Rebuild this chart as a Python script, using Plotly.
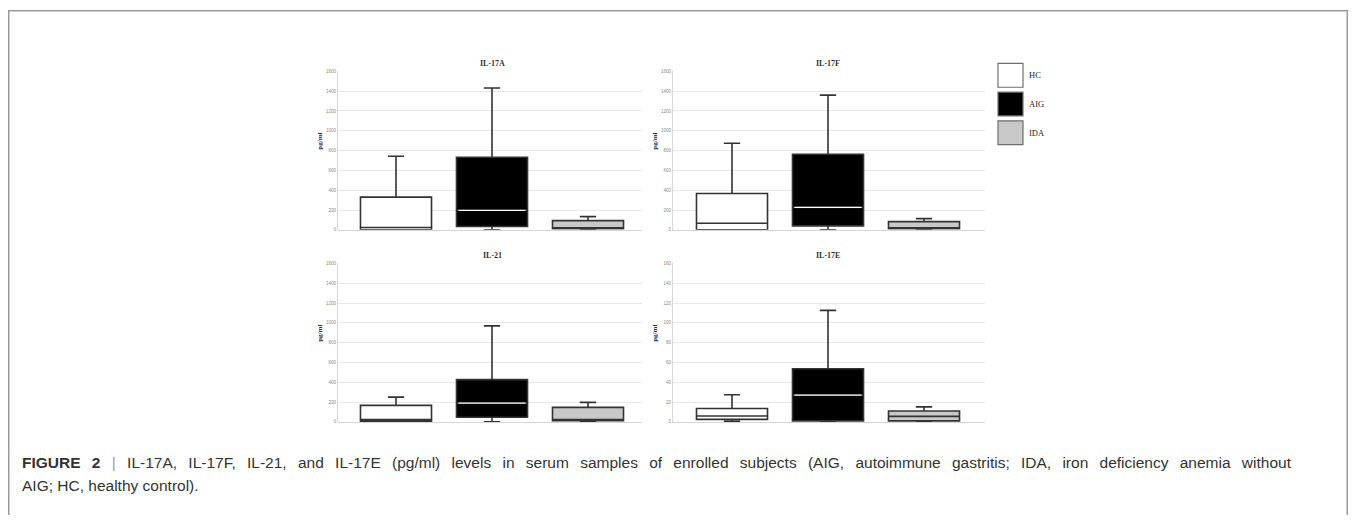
import plotly.graph_objects as go

# page is 1356x523; the HTML body has an 8px margin, so the figure is 1340x507
OFF = 8
W, H = 1340, 507

groups = ["HC", "AIG", "IDA"]
fills = {"HC": "#ffffff", "AIG": "#000000", "IDA": "#c8c8c8"}

panels = ["IL-17A", "IL-17F", "IL-21", "IL-17E"]

# five-number summaries (pg/ml)
il17a_q1 = [0, 33, 10]
il17a_med = [23, 197, 15]
il17a_q3 = [330, 733, 93]
il17a_lo = [0, 0, 0]
il17a_hi = [743, 1433, 133]

il17f_q1 = [0, 40, 10]
il17f_med = [67, 227, 18]
il17f_q3 = [367, 763, 83]
il17f_lo = [0, 0, 0]
il17f_hi = [875, 1360, 113]

il21_q1 = [5, 47, 13]
il21_med = [23, 190, 20]
il21_q3 = [167, 427, 147]
il21_lo = [0, 0, 0]
il21_hi = [250, 970, 197]

il17e_q1 = [2.6, 1, 1]
il17e_med = [6, 27, 5.6]
il17e_q3 = [13.5, 53.7, 11]
il17e_lo = [0.5, 0, 0]
il17e_hi = [27.4, 112.6, 15.2]

data = {
    "IL-17A": (il17a_q1, il17a_med, il17a_q3, il17a_lo, il17a_hi),
    "IL-17F": (il17f_q1, il17f_med, il17f_q3, il17f_lo, il17f_hi),
    "IL-21": (il21_q1, il21_med, il21_q3, il21_lo, il21_hi),
    "IL-17E": (il17e_q1, il17e_med, il17e_q3, il17e_lo, il17e_hi),
}

y_ranges = {"IL-17A": (0, 1600, 200), "IL-17F": (0, 1600, 200),
            "IL-21": (0, 1600, 200), "IL-17E": (0, 160, 20)}

caption_words1 = ["<b>FIGURE</b>", "<b>2</b>", "<span style='color:#9a9a9a'>|</span>",
                  "IL-17A,", "IL-17F,", "IL-21,", "and", "IL-17E", "(pg/ml)", "levels", "in",
                  "serum", "samples", "of", "enrolled", "subjects", "(AIG,", "autoimmune",
                  "gastritis;", "IDA,", "iron", "deficiency", "anemia", "without"]
caption2 = "AIG; HC, healthy control)."


def px(x):
    return (x - OFF) / W


def py(y):
    return 1 - (y - OFF) / H


# panel geometry in page pixels: (x_left, x_right, y_top, y_bottom, x_of_first_category)
geom = {
    "IL-17A": (338, 642, 70, 230, 396),
    "IL-17F": (673, 985, 70, 230, 732),
    "IL-21": (338, 642, 264, 424, 396),
    "IL-17E": (673, 985, 264, 424, 732),
}
unit = 96.0

fig = go.Figure()
layout = dict(width=W, height=H, margin=dict(l=0, r=0, t=0, b=0),
              paper_bgcolor="white", plot_bgcolor="white", showlegend=False,
              boxmode="overlay")
annotations = []
shapes = []

for i, name in enumerate(panels, start=1):
    xa = "x" if i == 1 else f"x{i}"
    ya = "y" if i == 1 else f"y{i}"
    q1, med, q3, lo, hi = data[name]
    for j, g in enumerate(groups):
        fig.add_trace(go.Box(
            x=[g], q1=[q1[j]], median=[med[j]], q3=[q3[j]],
            lowerfence=[lo[j]], upperfence=[hi[j]],
            fillcolor=fills[g], line=dict(color="#333333", width=1.6),
            width=0.74, whiskerwidth=0.23, boxpoints=False,
            xaxis=xa, yaxis=ya, hoverinfo="skip"))
        if g == "AIG":
            # white median line over the black box
            fig.add_trace(go.Box(
                x=[g], q1=[med[j]], median=[med[j]], q3=[med[j]],
                lowerfence=[med[j]], upperfence=[med[j]],
                fillcolor="rgba(0,0,0,0)", line=dict(color="#ffffff", width=1.2),
                width=0.70, whiskerwidth=0, boxpoints=False,
                xaxis=xa, yaxis=ya, hoverinfo="skip"))
    xl, xr, yt, yb, x0 = geom[name]
    r0, r1, dt = y_ranges[name]
    key_x = "xaxis" if i == 1 else f"xaxis{i}"
    key_y = "yaxis" if i == 1 else f"yaxis{i}"
    layout[key_x] = dict(
        domain=[px(xl), px(xr)], anchor=ya, type="category",
        categoryorder="array", categoryarray=groups,
        range=[(xl - x0) / unit, (xr - x0) / unit],
        showticklabels=False, ticks="", showgrid=False, zeroline=False,
        showline=True, linecolor="#d6d6d6", linewidth=1)
    layout[key_y] = dict(
        domain=[py(yb), py(yt)], anchor=xa, range=[r0, r1],
        tickmode="linear", tick0=r0, dtick=dt,
        tickfont=dict(size=4.5, color="#8a8a8a", family="Liberation Sans"),
        showgrid=True, gridcolor="#e8e8e8", gridwidth=1, zeroline=False,
        showline=True, linecolor="#d6d6d6", linewidth=1, ticks="")
    # panel title
    annotations.append(dict(
        text=f"<b>{name}</b>", x=px(x0 + unit), y=py(yt - 8), xref="paper", yref="paper",
        showarrow=False, font=dict(family="Liberation Serif", size=8, color="#333333"),
        xanchor="center", yanchor="middle"))
    # y axis title
    annotations.append(dict(
        text="<b>pg/ml</b>", x=px(xl - 18), y=py((yt + yb) / 2 - 9), xref="paper", yref="paper",
        showarrow=False, textangle=-90,
        font=dict(family="Liberation Serif", size=7, color="#1f2d4d"),
        xanchor="center", yanchor="middle"))

# legend (swatches + labels)
for k, g in enumerate(groups):
    top = 62 + k * 29
    shapes.append(dict(type="rect", xref="paper", yref="paper",
                       x0=px(998), x1=px(1023), y0=py(top + 24), y1=py(top),
                       fillcolor=fills[g], line=dict(color="#6e6e6e", width=1.2)))
    annotations.append(dict(
        text=g, x=px(1027), y=py(top + 12), xref="paper", yref="paper", showarrow=False,
        font=dict(family="Liberation Serif", size=8.5, color="#222222"),
        xanchor="left", yanchor="middle"))

# figure frame (page x 8..1348, from y 8 downward)
shapes.append(dict(type="rect", xref="paper", yref="paper",
                   x0=0.75 / W, x1=1 - 0.75 / W, y0=-0.05, y1=1 - 0.75 / H,
                   line=dict(color="#9a9a9a", width=1.5), fillcolor="rgba(0,0,0,0)"))

# caption (first line justified with wider word gaps)
gap = " \u2005\u2009"
caption1 = gap.join(caption_words1)
cap_font = dict(family="Liberation Sans, Arial, sans-serif", size=15.5, color="#333333")
annotations.append(dict(
    text=caption1, x=px(20), y=py(465), xref="paper", yref="paper", showarrow=False,
    font=cap_font, xanchor="left", yanchor="middle"))
annotations.append(dict(
    text=caption2, x=px(20), y=py(488), xref="paper", yref="paper", showarrow=False,
    font=cap_font, xanchor="left", yanchor="middle"))

layout["annotations"] = annotations
layout["shapes"] = shapes
fig.update_layout(**layout)

fig.write_html("out.html")
